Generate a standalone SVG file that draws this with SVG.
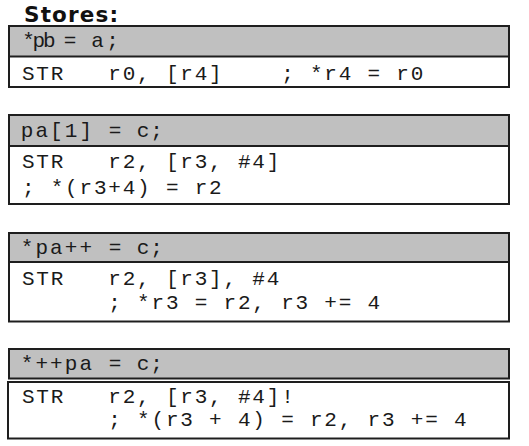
<svg xmlns="http://www.w3.org/2000/svg" width="529" height="446" viewBox="0 0 529 446">
<style>
.hdr{fill:#c0c0c0;stroke:none}
.box{fill:none;stroke:#1e1e1e;stroke-width:2}
.div{stroke:#1e1e1e;stroke-width:2}
text{fill:#1a1a1a;white-space:pre}
.mono{font-family:"Liberation Mono","DejaVu Sans Mono",monospace;font-size:21px}
.bd{letter-spacing:1.8px}
.title{font-family:"DejaVu Sans","Verdana",sans-serif;font-weight:bold;font-size:21.5px;fill:#111}
</style>
<rect width="529" height="446" fill="#fff"/>
<text class="title" x="24" y="21.5" textLength="94" lengthAdjust="spacing">Stores:</text>

<g id="store1">
<rect class="hdr" x="9" y="26" width="500" height="30.5"/>
<line class="div" x1="9" y1="56.5" x2="509" y2="56.5"/>
<rect class="box" x="9" y="26" width="500" height="61"/>
<text class="mono" y="47"><tspan x="22.2" letter-spacing="-2.2">*pb</tspan><tspan x="63.7">=</tspan><tspan x="91.2" letter-spacing="2.4">a;</tspan></text>
<text class="mono bd" x="21.9" y="80" xml:space="preserve">STR   r0, [r4]    ; *r4 = r0</text>
</g>

<g id="store2">
<rect class="hdr" x="9" y="115" width="500" height="31"/>
<line class="div" x1="9" y1="146" x2="509" y2="146"/>
<rect class="box" x="9" y="115" width="500" height="89"/>
<text class="mono" y="137"><tspan x="20.7" letter-spacing="2.1">pa[1]</tspan><tspan x="108.7">=</tspan><tspan x="136.7" letter-spacing="0.9">c;</tspan></text>
<text class="mono bd" x="21.9" y="168" xml:space="preserve">STR   r2, [r3, #4]</text>
<text class="mono bd" x="21.9" y="194" xml:space="preserve">; *(r3+4) = r2</text>
</g>

<g id="store3">
<rect class="hdr" x="9" y="233" width="500" height="29"/>
<line class="div" x1="9" y1="262" x2="509" y2="262"/>
<rect class="box" x="9" y="233" width="500" height="88.5"/>
<text class="mono" y="254"><tspan x="20.7" letter-spacing="2.1">*pa++</tspan><tspan x="108.7">=</tspan><tspan x="136.7" letter-spacing="0.9">c;</tspan></text>
<text class="mono bd" x="21.9" y="285" xml:space="preserve">STR   r2, [r3], #4</text>
<text class="mono bd" x="21.9" y="309" xml:space="preserve">      ; *r3 = r2, r3 += 4</text>
</g>

<g id="store4">
<rect class="hdr" x="9" y="349" width="500" height="29.5"/>
<rect class="box" x="9" y="349" width="500" height="29.5"/>
<rect class="box" x="8" y="382" width="501" height="56.5"/>
<text class="mono" y="370"><tspan x="20.7" letter-spacing="2.1">*++pa</tspan><tspan x="108.7">=</tspan><tspan x="136.7" letter-spacing="0.9">c;</tspan></text>
<text class="mono bd" x="21.9" y="403" xml:space="preserve">STR   r2, [r3, #4]!</text>
<text class="mono bd" x="21.9" y="426" xml:space="preserve">      ; *(r3 + 4) = r2, r3 += 4</text>
</g>

<g id="connectors"/>
</svg>
